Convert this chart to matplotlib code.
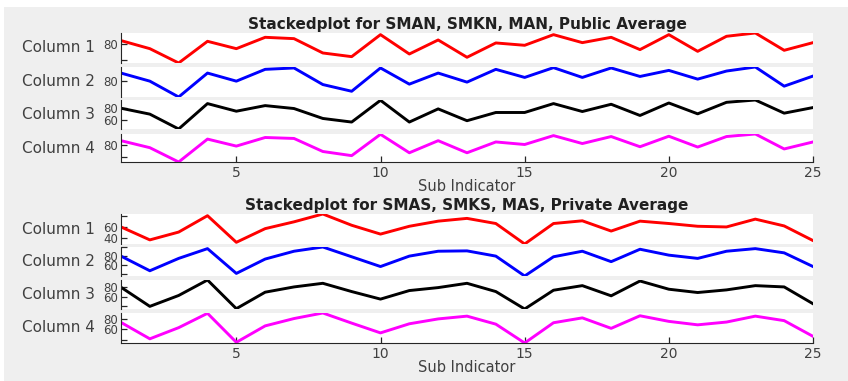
import numpy as np
import matplotlib.pyplot as plt
from matplotlib.patches import Rectangle

# values
sub_indicator = list(range(1, 26))
columns = ["Column 1", "Column 2", "Column 3", "Column 4"]
colors = ["#ff0000", "#0000ff", "#000000", "#ff00ff"]

public_col1 = [84.3, 74.0, 55.7, 83.4, 74.0, 88.5, 86.8, 68.5, 63.8, 91.9, 67.2, 85.1, 63.0,
               81.3, 78.3, 91.9, 81.7, 88.5, 72.8, 91.9, 70.6, 89.8, 94.0, 71.9, 81.7]
public_col2 = [90.0, 80.0, 60.4, 90.0, 80.0, 94.6, 96.3, 75.8, 67.5, 96.3, 76.3, 90.0, 78.8,
               94.6, 84.6, 96.7, 84.6, 96.3, 85.8, 93.3, 82.5, 92.5, 97.5, 73.8, 86.3]
public_col3 = [80.0, 70.3, 45.9, 87.6, 75.1, 84.3, 79.5, 63.2, 57.3, 93.0, 57.3, 78.9, 59.5,
               73.0, 73.0, 87.6, 74.6, 86.5, 68.1, 88.6, 70.8, 89.7, 93.5, 71.9, 81.1]
public_col4 = [86.0, 75.0, 52.5, 88.5, 77.5, 91.0, 89.5, 69.0, 62.5, 96.0, 67.0, 86.0, 67.0,
               84.0, 80.0, 94.0, 81.5, 92.5, 76.5, 93.0, 76.0, 92.5, 96.5, 73.0, 84.0]

private_col1 = [60.0, 37.0, 50.9, 80.0, 32.7, 57.0, 69.1, 83.0, 63.0, 47.3, 61.2, 70.3, 75.2,
                66.1, 29.7, 66.1, 70.9, 52.7, 70.3, 66.1, 61.2, 60.0, 73.9, 61.8, 35.8]
private_col2 = [80.0, 46.7, 74.8, 97.0, 40.7, 73.3, 91.1, 100.7, 78.5, 56.3, 80.0, 91.1, 91.9,
                80.0, 34.8, 78.5, 91.1, 67.4, 95.6, 82.2, 74.8, 91.1, 97.0, 87.4, 56.3]
private_col3 = [80.0, 40.0, 62.8, 95.2, 35.2, 69.7, 80.7, 88.3, 71.0, 55.2, 73.1, 79.3, 88.3,
                71.0, 34.5, 73.8, 83.4, 62.1, 93.1, 75.9, 69.0, 74.5, 83.4, 80.7, 45.5]
private_col4 = [73.3, 42.0, 63.3, 90.7, 35.3, 66.7, 80.7, 91.3, 72.0, 53.3, 70.7, 80.0, 85.3,
                70.0, 34.0, 72.7, 82.0, 62.0, 86.0, 75.3, 68.7, 74.0, 85.3, 76.7, 46.7]

# which y ticks carry a label in each stacked axis
public_labeled = [[80], [80], [60, 80], [80]]
private_labeled = [[40, 60], [60, 80], [60, 80], [60, 80]]

panels = [
    ("Stackedplot for SMAN, SMKN, MAN, Public Average",
     [public_col1, public_col2, public_col3, public_col4], public_labeled,
     [(33, 63), (67, 97), (100, 129), (134, 162)]),
    ("Stackedplot for SMAS, SMKS, MAS, Private Average",
     [private_col1, private_col2, private_col3, private_col4], private_labeled,
     [(214, 244), (247, 276), (280, 309), (313, 343)]),
]

W, H = 848, 381
fig = plt.figure(figsize=(W / 100, H / 100), dpi=100, facecolor="white")
fig.patches.append(Rectangle((4 / W, 0), 1, (H - 7) / H, transform=fig.transFigure,
                             facecolor="#efefef", edgecolor="none", zorder=-10))

spine_col = "#262626"
text_col = "#404040"
left, right = 121, 813

for title, series, labeled, rows in panels:
    axes = []
    for i, (vals, (top, bot)) in enumerate(zip(series, rows)):
        ax = fig.add_axes([left / W, 1 - bot / H, (right - left) / W, (bot - top) / H])
        ax.set_facecolor("white")
        ax.plot(sub_indicator, vals, color=colors[i], lw=2.1)
        lo, hi = min(vals), max(vals)
        ax.set_ylim(lo, hi)
        ax.set_xlim(1, 25)
        ticks = [t for t in range(0, 120, 20) if lo <= t <= hi + 0.8]
        ax.set_yticks(ticks)
        ax.set_yticklabels([str(t) if t in labeled[i] else "" for t in ticks])
        for s in ["top", "right", "bottom"]:
            ax.spines[s].set_visible(False)
        ax.spines["left"].set_color(spine_col)
        ax.tick_params(axis="y", direction="in", length=4, width=0.9, colors=spine_col,
                       labelcolor=text_col, labelsize=8.5, pad=2)
        ax.set_xticks([5, 10, 15, 20, 25])
        if i < 3:
            ax.tick_params(axis="x", bottom=False, labelbottom=False)
        else:
            ax.spines["bottom"].set_visible(True)
            ax.spines["bottom"].set_color(spine_col)
            ax.tick_params(axis="x", direction="in", length=4, width=0.9, colors=spine_col,
                           labelcolor=text_col, labelsize=10, pad=3)
            ax.set_xlabel("Sub Indicator", fontsize=10.5, color=text_col, labelpad=-1)
        fig.text(95 / W, 1 - (top + bot) / 2 / H, columns[i], ha="right", va="center",
                 fontsize=11, color=text_col)
        axes.append(ax)
    axes[0].set_title(title, fontsize=11, fontweight="bold", color="#202020", pad=3)

plt.savefig("out.png", dpi=100, facecolor=fig.get_facecolor())
